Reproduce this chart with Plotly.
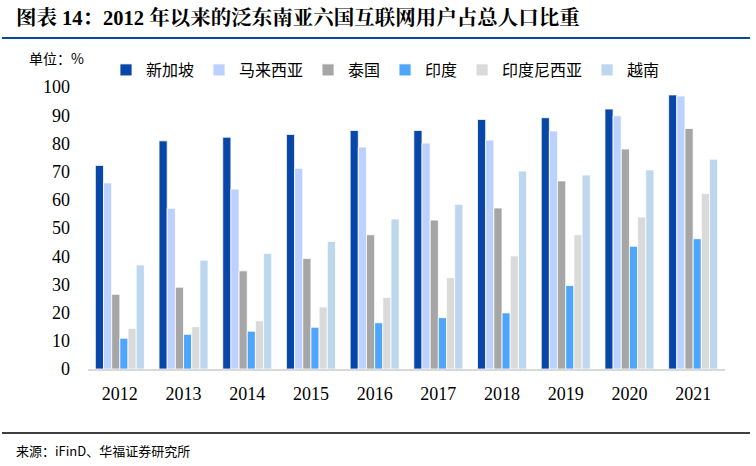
import plotly.graph_objects as go

years = ["2012", "2013", "2014", "2015", "2016", "2017", "2018", "2019", "2020", "2021"]
singapore = [72.2, 80.9, 82.2, 83.2, 84.6, 84.6, 88.5, 89.1, 92.2, 97.2]
malaysia = [66.0, 57.0, 63.8, 71.2, 78.7, 80.1, 81.2, 84.4, 89.8, 96.8]
thailand = [26.5, 29.0, 34.8, 39.2, 47.6, 52.8, 57.1, 66.7, 78.0, 85.3]
india = [10.9, 12.3, 13.4, 14.8, 16.4, 18.2, 19.9, 29.6, 43.5, 46.2]
indonesia = [14.4, 15.0, 17.1, 22.0, 25.4, 32.4, 40.1, 47.6, 53.9, 62.2]
vietnam = [36.9, 38.6, 41.0, 45.2, 53.2, 58.4, 70.2, 68.8, 70.6, 74.4]

series_names = ["新加坡", "马来西亚", "泰国", "印度", "印度尼西亚", "越南"]
series_values = [singapore, malaysia, thailand, india, indonesia, vietnam]
colors = ["#0847A8", "#BDD1FF", "#A6A6A6", "#4EA6FC", "#DADADA", "#BDD7EE"]

title_text = "图表 14：2012 年以来的泛东南亚六国互联网用户占总人口比重"
unit_text = "单位：%"
source_text = "来源：iFinD、华福证券研究所"

W, H = 756, 466
L, R = 88, 725
T, B = 87, 369

SERIF = "Liberation Serif, Noto Serif CJK SC, Noto Sans CJK SC, serif"
CJK = "Noto Sans CJK SC, sans-serif"

fig = go.Figure()
for name, vals, c in zip(series_names, series_values, colors):
    fig.add_trace(go.Bar(
        x=years, y=vals, name=name,
        marker=dict(color=c, line=dict(color="white", width=0.8)),
    ))

def px(p):
    return (p - L) / (R - L)

def py(p):
    return (B - p) / (B - T)

fig.update_layout(
    width=W, height=H,
    margin=dict(l=L, r=W - R, t=T, b=H - B),
    paper_bgcolor="white", plot_bgcolor="white",
    barmode="group", bargap=0.23, bargroupgap=0.0,
    font=dict(family=SERIF, size=18, color="#000000"),
    showlegend=True,
    legend=dict(
        orientation="h", x=px(106), y=py(70), xanchor="left", yanchor="middle",
        font=dict(family=CJK, size=16, color="#000000"),
        itemwidth=30, traceorder="normal", tracegroupgap=0,
        bgcolor="rgba(0,0,0,0)",
    ),
    xaxis=dict(
        showline=True, linecolor="#D9D9D9", linewidth=2,
        ticks="", showgrid=False, ticklabelstandoff=7,
        tickfont=dict(family=SERIF, size=18, color="#000000"),
    ),
    yaxis=dict(
        range=[0, 100], dtick=10, tick0=0,
        showline=False, showgrid=False, zeroline=False, ticks="",
        ticklabelstandoff=17,
        tickfont=dict(family=SERIF, size=18, color="#000000"),
    ),
)

fig.add_annotation(
    text="<b>" + title_text + "</b>", xref="paper", yref="paper",
    x=px(14), y=py(18), xanchor="left", yanchor="middle", showarrow=False,
    font=dict(family=SERIF, size=20.5, color="#000000"),
)
fig.add_shape(type="line", xref="paper", yref="paper",
              x0=px(2), x1=px(750), y0=py(38), y1=py(38),
              line=dict(color="#0A4A9C", width=2))
fig.add_annotation(
    text=unit_text, xref="paper", yref="paper",
    x=px(27), y=py(58), xanchor="left", yanchor="middle", showarrow=False,
    font=dict(family=CJK, size=14, color="#000000"),
)
fig.add_shape(type="line", xref="paper", yref="paper",
              x0=px(2), x1=px(750), y0=py(433), y1=py(433),
              line=dict(color="#000000", width=1.5))
fig.add_annotation(
    text=source_text, xref="paper", yref="paper",
    x=px(14), y=py(451), xanchor="left", yanchor="middle", showarrow=False,
    font=dict(family=CJK, size=13, color="#000000"),
)

fig.write_html("out.html")
